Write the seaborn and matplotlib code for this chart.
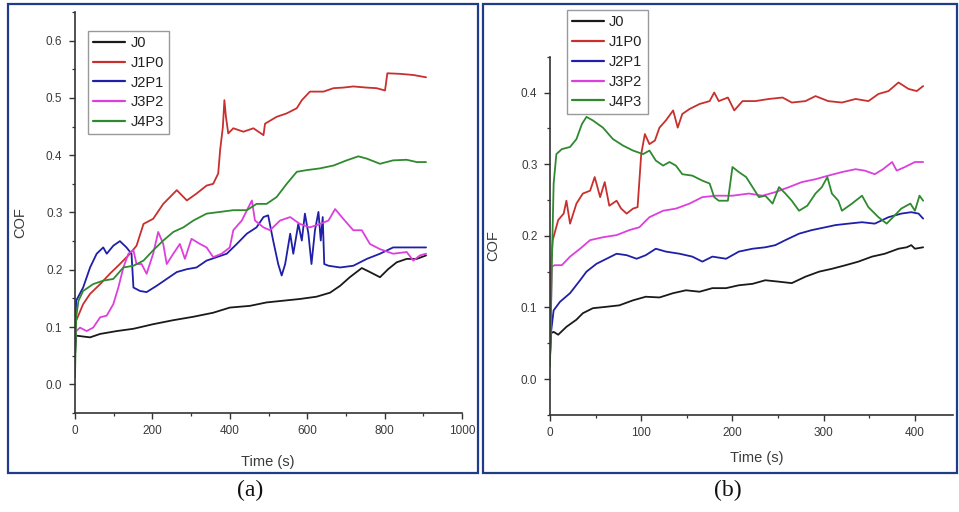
import matplotlib
matplotlib.use("Agg")
import matplotlib.pyplot as plt
from matplotlib.patches import Rectangle
from matplotlib.ticker import MultipleLocator
import seaborn as sns
import pandas as pd

# ---------------- data: panel (a) ----------------
a_J0_t = [0, 3, 39, 65, 108, 151, 202, 254, 306, 357, 400, 452, 495, 538, 581, 624, 659, 685, 710, 741, 762, 788, 809, 831, 857, 883, 907]
a_J0_y = [0.05, 0.085, 0.082, 0.088, 0.093, 0.097, 0.105, 0.112, 0.118, 0.125, 0.134, 0.137, 0.143, 0.146, 0.149, 0.153, 0.160, 0.172, 0.187, 0.203, 0.196, 0.187, 0.201, 0.213, 0.219, 0.219, 0.225]

a_J1P0_t = [0, 3, 21, 39, 65, 90, 116, 142, 159, 177, 202, 228, 263, 289, 314, 340, 357, 370, 375, 382, 386, 390, 396, 409, 435, 461, 487, 491, 521, 547, 573, 586, 607, 642, 668, 693, 719, 754, 779, 801, 807, 840, 874, 907]
a_J1P0_y = [0.09, 0.111, 0.140, 0.158, 0.175, 0.193, 0.210, 0.228, 0.242, 0.280, 0.289, 0.315, 0.339, 0.321, 0.333, 0.347, 0.350, 0.368, 0.409, 0.449, 0.496, 0.467, 0.438, 0.447, 0.441, 0.447, 0.435, 0.455, 0.467, 0.473, 0.482, 0.496, 0.511, 0.511, 0.517, 0.518, 0.520, 0.518, 0.517, 0.513, 0.543, 0.542, 0.540, 0.536]

a_J2P1_t = [0, 3, 21, 39, 56, 73, 82, 99, 116, 133, 146, 151, 168, 185, 211, 237, 263, 289, 314, 340, 366, 392, 418, 444, 469, 487, 499, 512, 525, 534, 543, 556, 564, 577, 586, 594, 603, 611, 620, 629, 635, 640, 644, 655, 685, 719, 754, 788, 822, 865, 907]
a_J2P1_y = [0.088, 0.146, 0.169, 0.204, 0.228, 0.239, 0.228, 0.242, 0.250, 0.239, 0.228, 0.169, 0.163, 0.161, 0.172, 0.184, 0.196, 0.201, 0.204, 0.216, 0.222, 0.228, 0.245, 0.263, 0.274, 0.292, 0.295, 0.251, 0.210, 0.190, 0.210, 0.263, 0.228, 0.280, 0.251, 0.298, 0.263, 0.210, 0.269, 0.301, 0.251, 0.292, 0.210, 0.207, 0.204, 0.207, 0.219, 0.228, 0.239, 0.239, 0.239]

a_J3P2_t = [0, 3, 13, 30, 47, 65, 82, 99, 112, 125, 138, 151, 159, 172, 185, 202, 215, 228, 237, 254, 271, 284, 301, 323, 340, 357, 379, 400, 409, 431, 448, 457, 465, 487, 504, 530, 556, 581, 607, 633, 655, 672, 693, 719, 741, 762, 788, 822, 857, 874, 891, 907]
a_J3P2_y = [0.07, 0.093, 0.099, 0.093, 0.099, 0.117, 0.120, 0.140, 0.169, 0.204, 0.228, 0.234, 0.210, 0.210, 0.193, 0.228, 0.266, 0.245, 0.210, 0.228, 0.245, 0.219, 0.254, 0.245, 0.239, 0.222, 0.228, 0.239, 0.269, 0.286, 0.309, 0.321, 0.286, 0.274, 0.269, 0.286, 0.292, 0.280, 0.274, 0.280, 0.286, 0.306, 0.289, 0.269, 0.269, 0.245, 0.236, 0.228, 0.231, 0.216, 0.225, 0.228]

a_J4P3_t = [0, 3, 9, 21, 47, 73, 99, 125, 151, 177, 202, 228, 254, 280, 306, 340, 375, 409, 444, 469, 495, 521, 547, 573, 599, 633, 668, 702, 732, 754, 788, 822, 857, 883, 907]
a_J4P3_y = [0.012, 0.117, 0.146, 0.163, 0.175, 0.181, 0.184, 0.204, 0.207, 0.216, 0.234, 0.251, 0.266, 0.274, 0.286, 0.298, 0.301, 0.304, 0.304, 0.315, 0.315, 0.327, 0.350, 0.371, 0.374, 0.377, 0.382, 0.391, 0.398, 0.394, 0.385, 0.391, 0.392, 0.388, 0.388]

# ---------------- data: panel (b) ----------------
b_J0_t = [0, 1, 4, 9, 18, 29, 36, 47, 62, 76, 91, 105, 120, 135, 149, 164, 178, 193, 207, 222, 236, 251, 265, 280, 295, 309, 324, 338, 353, 367, 382, 391, 396, 400, 409]
b_J0_y = [0.03, 0.064, 0.066, 0.062, 0.073, 0.083, 0.092, 0.099, 0.101, 0.103, 0.110, 0.115, 0.114, 0.120, 0.124, 0.122, 0.127, 0.127, 0.131, 0.133, 0.138, 0.136, 0.134, 0.143, 0.150, 0.154, 0.159, 0.164, 0.171, 0.175, 0.182, 0.184, 0.187, 0.182, 0.184]

b_J1P0_t = [0, 1, 3, 9, 15, 18, 22, 29, 36, 44, 49, 55, 60, 65, 73, 78, 84, 91, 96, 100, 104, 109, 115, 120, 127, 135, 140, 145, 153, 164, 175, 180, 185, 195, 202, 211, 225, 240, 255, 265, 280, 291, 305, 320, 335, 349, 360, 371, 382, 393, 402, 409]
b_J1P0_y = [0.03, 0.157, 0.194, 0.222, 0.231, 0.249, 0.217, 0.245, 0.259, 0.263, 0.282, 0.254, 0.275, 0.242, 0.249, 0.238, 0.231, 0.238, 0.240, 0.314, 0.342, 0.328, 0.333, 0.351, 0.361, 0.375, 0.351, 0.370, 0.377, 0.384, 0.388, 0.400, 0.388, 0.393, 0.375, 0.388, 0.388, 0.391, 0.393, 0.386, 0.388, 0.395, 0.388, 0.386, 0.391, 0.388, 0.398, 0.402, 0.414, 0.405, 0.402, 0.409]

b_J2P1_t = [0, 1, 4, 11, 22, 33, 40, 51, 62, 73, 84, 95, 105, 116, 127, 142, 156, 167, 178, 193, 207, 222, 236, 247, 258, 273, 287, 302, 313, 327, 342, 356, 371, 385, 396, 404, 409]
b_J2P1_y = [0.03, 0.064, 0.096, 0.108, 0.120, 0.138, 0.150, 0.161, 0.168, 0.175, 0.173, 0.168, 0.173, 0.182, 0.178, 0.175, 0.171, 0.164, 0.171, 0.168, 0.178, 0.182, 0.184, 0.187, 0.194, 0.203, 0.208, 0.212, 0.215, 0.217, 0.219, 0.217, 0.226, 0.231, 0.233, 0.231, 0.224]

b_J3P2_t = [0, 2, 5, 13, 22, 33, 44, 58, 73, 87, 98, 109, 124, 138, 153, 167, 182, 200, 218, 233, 247, 262, 276, 291, 305, 320, 335, 345, 356, 365, 375, 380, 389, 400, 409]
b_J3P2_y = [0.03, 0.157, 0.159, 0.159, 0.171, 0.182, 0.194, 0.198, 0.201, 0.208, 0.212, 0.226, 0.235, 0.238, 0.245, 0.254, 0.256, 0.256, 0.259, 0.256, 0.261, 0.268, 0.275, 0.279, 0.284, 0.289, 0.293, 0.291, 0.286, 0.293, 0.303, 0.291, 0.296, 0.303, 0.303]

b_J4P3_t = [0, 2, 4, 7, 13, 22, 29, 35, 40, 47, 58, 69, 80, 91, 102, 109, 116, 124, 131, 138, 145, 156, 167, 175, 180, 185, 195, 200, 207, 215, 222, 229, 236, 244, 251, 258, 265, 273, 282, 291, 298, 304, 309, 316, 320, 331, 342, 349, 360, 369, 376, 385, 395, 400, 405, 409]
b_J4P3_y = [0.018, 0.157, 0.273, 0.314, 0.321, 0.324, 0.335, 0.356, 0.366, 0.361, 0.351, 0.335, 0.326, 0.319, 0.314, 0.319, 0.305, 0.298, 0.303, 0.298, 0.286, 0.284, 0.277, 0.273, 0.254, 0.249, 0.249, 0.296, 0.289, 0.282, 0.268, 0.254, 0.256, 0.245, 0.268, 0.259, 0.249, 0.235, 0.242, 0.259, 0.268, 0.282, 0.259, 0.249, 0.235, 0.245, 0.256, 0.240, 0.226, 0.217, 0.226, 0.238, 0.245, 0.235, 0.256, 0.249]

samples = ["J0", "J1P0", "J2P1", "J3P2", "J4P3"]
colors = ["#1a1a1a", "#c8302e", "#1f1fa8", "#dd3fdd", "#2f8a2f"]

panel_a = {"J0": (a_J0_t, a_J0_y), "J1P0": (a_J1P0_t, a_J1P0_y), "J2P1": (a_J2P1_t, a_J2P1_y),
           "J3P2": (a_J3P2_t, a_J3P2_y), "J4P3": (a_J4P3_t, a_J4P3_y)}
panel_b = {"J0": (b_J0_t, b_J0_y), "J1P0": (b_J1P0_t, b_J1P0_y), "J2P1": (b_J2P1_t, b_J2P1_y),
           "J3P2": (b_J3P2_t, b_J3P2_y), "J4P3": (b_J4P3_t, b_J4P3_y)}


def to_frame(panel):
    rows = []
    for s in samples:
        t, y = panel[s]
        for ti, yi in zip(t, y):
            rows.append({"Time": ti, "COF": yi, "sample": s})
    return pd.DataFrame(rows)


sns.set_style("ticks")
plt.rcParams["font.family"] = ["Liberation Sans", "DejaVu Sans"]
txt = "#3a3a3a"

fig = plt.figure(figsize=(9.59, 5.12), dpi=100)
ax_a = fig.add_axes([0.0782, 0.1934, 0.4036, 0.7832])
ax_b = fig.add_axes([0.5735, 0.1895, 0.4205, 0.6998])

palette = dict(zip(samples, colors))

for ax, panel, xlim, ylim, xmaj, xmin_, leg_anchor, xl, yl in [
    (ax_a, panel_a, (0, 1000), (-0.05, 0.65), 200, 100, (0.034, 0.953), (0.499, -0.105), (-0.142, 0.476)),
    (ax_b, panel_b, (0, 442), (-0.05, 0.45), 100, 50, (0.042, 1.13), (0.513, -0.10), (-0.141, 0.474)),
]:
    df = to_frame(panel)
    sns.lineplot(data=df, x="Time", y="COF", hue="sample", hue_order=samples,
                 palette=palette, estimator=None, sort=False, linewidth=1.3, ax=ax)
    ax.set_xlim(*xlim)
    ax.set_ylim(*ylim)
    ax.xaxis.set_major_locator(MultipleLocator(xmaj))
    ax.xaxis.set_minor_locator(MultipleLocator(xmin_))
    ax.yaxis.set_major_locator(MultipleLocator(0.1))
    ax.yaxis.set_minor_locator(MultipleLocator(0.05))
    ax.yaxis.set_major_formatter(matplotlib.ticker.FormatStrFormatter("%.1f"))
    sns.despine(ax=ax)
    for sp in ("left", "bottom"):
        ax.spines[sp].set_color("#333333")
        ax.spines[sp].set_linewidth(1.2)
    ax.tick_params(which="major", direction="out", length=4, width=1, colors="#333333",
                   labelsize=8.5, labelcolor=txt, pad=5)
    ax.tick_params(which="minor", direction="out", length=2.5, width=0.9, colors="#333333")
    ax.set_xlabel("Time (s)", fontsize=10.5, color=txt)
    ax.set_ylabel("COF", fontsize=10.5, color=txt, va="center")
    ax.xaxis.set_label_coords(*xl)
    ax.yaxis.set_label_coords(*yl)
    sns.move_legend(ax, loc="upper left", bbox_to_anchor=leg_anchor, borderaxespad=0,
                    title=None, frameon=True, fancybox=False, fontsize=10.5,
                    handlelength=2.2, handletextpad=0.35, labelspacing=0.4,
                    borderpad=0.35, edgecolor="#999999", framealpha=1)
    leg = ax.get_legend()
    for t in leg.get_texts():
        t.set_color("#222222")
    for h in leg.get_lines():
        h.set_linewidth(1.6)

# blue panel borders
for x0, x1 in [(8, 478), (483, 957)]:
    fig.patches.append(Rectangle((x0 / 959, 1 - 473 / 512), (x1 - x0) / 959, (473 - 4) / 512,
                                 transform=fig.transFigure, fill=False,
                                 edgecolor="#1f3c88", linewidth=1.6))

fig.text(250 / 959, 1 - 490 / 512, "(a)", ha="center", va="center", fontsize=17,
         family=["Liberation Serif", "DejaVu Serif"], color="#111111")
fig.text(728 / 959, 1 - 490 / 512, "(b)", ha="center", va="center", fontsize=17,
         family=["Liberation Serif", "DejaVu Serif"], color="#111111")

fig.savefig("out.png", dpi=100)
